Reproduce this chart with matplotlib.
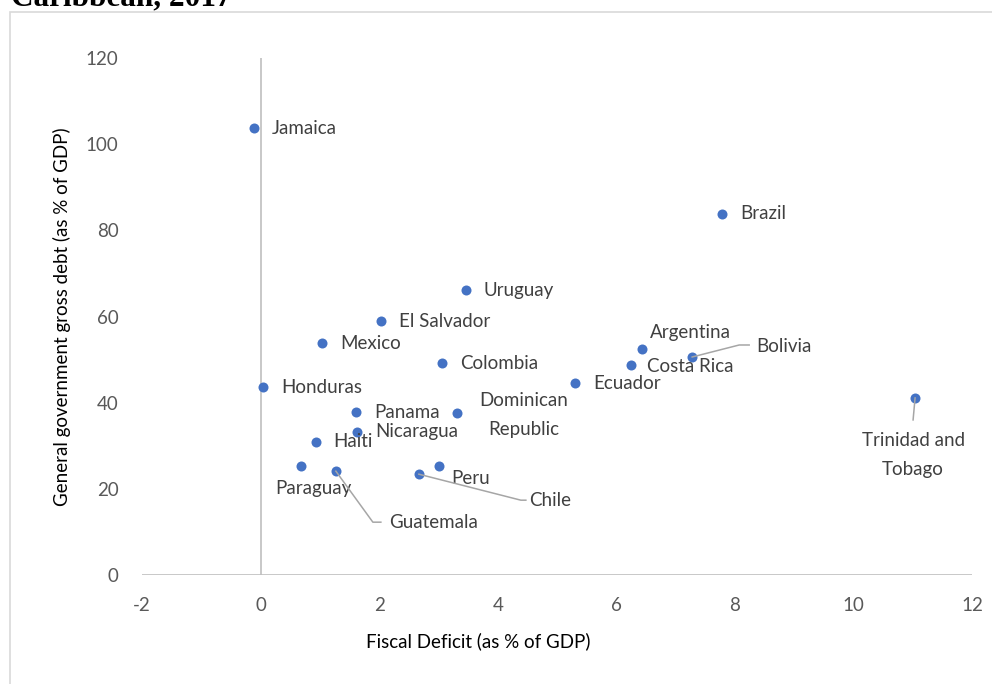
import matplotlib
matplotlib.use("Agg")
import matplotlib.pyplot as plt
from matplotlib.patches import Rectangle
from matplotlib.lines import Line2D
from matplotlib.transforms import IdentityTransform

countries = ["Jamaica", "Brazil", "Uruguay", "El Salvador", "Mexico", "Colombia",
             "Honduras", "Panama", "Dominican\nRepublic", "Nicaragua", "Haiti",
             "Paraguay", "Guatemala", "Peru", "Chile", "Ecuador", "Argentina",
             "Costa Rica", "Bolivia", "Trinidad and\nTobago"]
fiscal_deficit = [-0.11, 7.78, 3.46, 2.03, 1.04, 3.06, 0.04, 1.61, 3.31, 1.63, 0.93,
                  0.68, 1.27, 3.01, 2.67, 5.30, 6.43, 6.25, 7.28, 11.04]
gross_debt = [103.7, 83.8, 66.1, 58.9, 53.8, 49.2, 43.6, 37.8, 37.6, 33.2, 30.9,
              25.3, 24.1, 25.3, 23.4, 44.5, 52.4, 48.7, 50.6, 41.1]
x_ticks = [-2, 0, 2, 4, 6, 8, 10, 12]
y_ticks = [0, 20, 40, 60, 80, 100, 120]

# label placement: (dx, dy) in pixels, horizontal alignment
label_offsets = {
    "Paraguay": (12, -23, "center"),
    "Guatemala": (53, -51, "left"),
    "Peru": (12, -13, "left"),
    "Chile": (110, -26, "left"),
    "Dominican\nRepublic": (67, -2, "center"),
    "Argentina": (8, 17, "left"),
    "Costa Rica": (16, -1, "left"),
    "Bolivia": (64, 10, "left"),
    "Trinidad and\nTobago": (-2, -57, "center"),
}
# leader lines: pixel offsets of the vertices after the marker centre
leaders = {
    "Guatemala": [(37, -51), (45, -51)],
    "Chile": [(102, -26), (107, -26)],
    "Bolivia": [(47, 12), (57, 12)],
    "Trinidad and\nTobago": [(-2, -22)],
}

plt.rcParams["font.family"] = ["Lato", "DejaVu Sans"]
TEXT = "#404040"
TICK = "#595959"
AXIS = "#BFBFBF"
BLUE = "#4472C4"

fig = plt.figure(figsize=(9.92, 6.84), dpi=100)
fig.patches.append(Rectangle((10 / 992, -0.1), 1.2, (684 - 12) / 684 + 0.1,
                             transform=fig.transFigure, fill=False,
                             edgecolor="#D9D9D9", linewidth=1.2))
fig.text(11 / 992, 1 - 5 / 684, "Caribbean, 2017", family="Liberation Serif",
         weight="bold", fontsize=22.5, ha="left", va="baseline", color="black")

ax = fig.add_axes([142 / 992, (684 - 575) / 684, 830 / 992, 517 / 684])
ax.set_xlim(-2, 12)
ax.set_ylim(0, 120)
for s in ax.spines.values():
    s.set_visible(False)
ax.axhline(0, color=AXIS, linewidth=1.2, zorder=1)
ax.axvline(0, color=AXIS, linewidth=1.2, zorder=1)
ax.set_xticks(x_ticks)
ax.set_yticks(y_ticks)
ax.set_xticklabels([str(v) for v in x_ticks])
ax.set_yticklabels([str(v) for v in y_ticks])
ax.tick_params(length=0, labelsize=13.5, colors=TICK)
ax.tick_params(axis="x", pad=16)
ax.tick_params(axis="y", pad=17)
ax.set_xlabel("Fiscal Deficit (as % of GDP)", fontsize=13.5, color="black", va="center")
ax.set_ylabel("General government gross debt (as % of GDP)", fontsize=13.5,
              color="black", va="center")
ax.xaxis.set_label_coords(0.405, (575 - 641) / 517)
ax.yaxis.set_label_coords((62 - 142) / 830, 0.5)

ax.scatter(fiscal_deficit, gross_debt, s=52, color=BLUE, zorder=3, linewidths=0)

for name, x, y in zip(countries, fiscal_deficit, gross_debt):
    dx, dy, ha = label_offsets.get(name, (18, 0, "left"))
    ax.annotate(name, (x, y), xytext=(dx, dy), textcoords="offset pixels",
                ha=ha, va="center", fontsize=13.5, color=TEXT,
                linespacing=1.85, zorder=4)
    if name in leaders:
        px, py = ax.transData.transform((x, y))
        xs = [px] + [px + ox for ox, _ in leaders[name]]
        ys = [py] + [py + oy for _, oy in leaders[name]]
        fig.add_artist(Line2D(xs, ys, transform=IdentityTransform(),
                              color="#A6A6A6", linewidth=1.1, zorder=2))

fig.savefig("out.png", dpi=100)
